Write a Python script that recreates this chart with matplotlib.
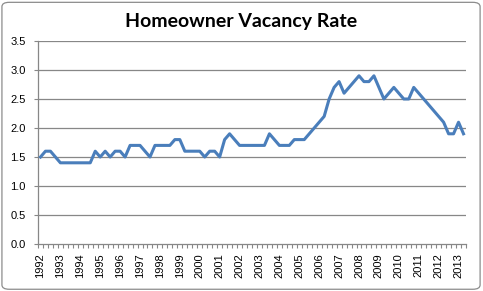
import matplotlib
matplotlib.use("Agg")
import matplotlib.pyplot as plt
from matplotlib.patches import FancyBboxPatch

years = list(range(1992, 2014))
quarters_per_year = 4
rates = [
    1.5, 1.6, 1.6, 1.5,   # 1992
    1.4, 1.4, 1.4, 1.4,   # 1993
    1.4, 1.4, 1.4, 1.6,   # 1994
    1.5, 1.6, 1.5, 1.6,   # 1995
    1.6, 1.5, 1.7, 1.7,   # 1996
    1.7, 1.6, 1.5, 1.7,   # 1997
    1.7, 1.7, 1.7, 1.8,   # 1998
    1.8, 1.6, 1.6, 1.6,   # 1999
    1.6, 1.5, 1.6, 1.6,   # 2000
    1.5, 1.8, 1.9, 1.8,   # 2001
    1.7, 1.7, 1.7, 1.7,   # 2002
    1.7, 1.7, 1.9, 1.8,   # 2003
    1.7, 1.7, 1.7, 1.8,   # 2004
    1.8, 1.8, 1.9, 2.0,   # 2005
    2.1, 2.2, 2.5, 2.7,   # 2006
    2.8, 2.6, 2.7, 2.8,   # 2007
    2.9, 2.8, 2.8, 2.9,   # 2008
    2.7, 2.5, 2.6, 2.7,   # 2009
    2.6, 2.5, 2.5, 2.7,   # 2010
    2.6, 2.5, 2.4, 2.3,   # 2011
    2.2, 2.1, 1.9, 1.9,   # 2012
    2.1, 1.9,             # 2013
]
y_ticks = [0.0, 0.5, 1.0, 1.5, 2.0, 2.5, 3.0, 3.5]

fig = plt.figure(figsize=(4.83, 2.91), dpi=100)
fig.patch.set_facecolor("white")
border = FancyBboxPatch((0.004, 0.006), 0.99, 0.986, boxstyle="round,pad=0,rounding_size=0.015",
                        transform=fig.transFigure, facecolor="none", edgecolor="#8c8c8c",
                        linewidth=0.9, zorder=10)
fig.patches.append(border)

ax = fig.add_axes([38 / 483, 1 - 244 / 291, (466 - 38) / 483, (244 - 41) / 291])
n = len(rates)
x = list(range(n))
grid_color = "#878787"
for yt in y_ticks[1:]:
    ax.axhline(yt, color=grid_color, linewidth=0.9, zorder=1)
ax.plot(x, rates, color="#4a7ebb", linewidth=2.2, solid_joinstyle="round", zorder=3)

ax.set_xlim(-0.5, n - 0.5)
ax.set_ylim(0, 3.5)
ax.set_yticks(y_ticks)
ax.set_yticklabels([f"{v:.1f}" for v in y_ticks], fontsize=8, family="Liberation Sans")

label_pos = [i * quarters_per_year for i in range(len(years))]
ax.set_xticks(label_pos)
ax.set_xticklabels([str(y) for y in years], rotation=90, fontsize=8, family="Liberation Sans")
ax.set_xticks([i - 0.5 for i in range(n + 1)], minor=True)
ax.tick_params(axis="x", which="major", length=0, pad=6.5)
ax.tick_params(axis="x", which="minor", length=3, width=0.8, color=grid_color, direction="out")
ax.tick_params(axis="y", length=3, width=0.8, color=grid_color, direction="out", pad=6)

for side in ["top", "right"]:
    ax.spines[side].set_visible(False)
for side in ["left", "bottom"]:
    ax.spines[side].set_color(grid_color)
    ax.spines[side].set_linewidth(0.9)

fig.text(0.5, 1 - 22 / 291, "Homeowner Vacancy Rate", ha="center", va="center",
         fontsize=14, fontweight="bold", family="Lato")

fig.savefig("out.png", dpi=100, facecolor="white")
